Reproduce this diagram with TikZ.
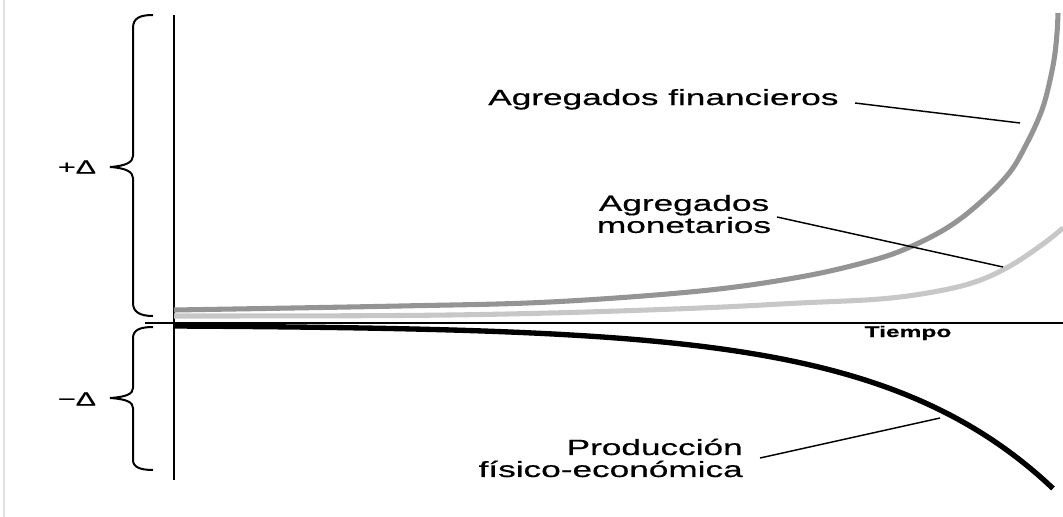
\documentclass[tikz,border=0pt]{standalone}
\usepackage{fontspec}
\setmainfont{Liberation Sans}
\newfontfamily\widefont[FakeStretch=1.6,FakeBold=0.6]{Liberation Sans}
\begin{document}
\begin{tikzpicture}[x=0.75pt,y=-0.75pt,
  lbl/.style={font=\widefont\fontsize{16.5}{16.5}\selectfont, inner sep=0pt},
  dlbl/.style={font=\widefont\fontsize{14.25}{14.25}\selectfont, inner sep=0pt},
  tlbl/.style={font=\widefont\bfseries\fontsize{11.5}{11.5}\selectfont, inner sep=0pt},
  bracestyle/.style={line width=1.5pt, line join=miter},
  axis/.style={black},
  curve/.style={line width=3.8pt},
  leader/.style={line width=1.1pt}]
\useasboundingbox (0,0) rectangle (1063,517);
% faint left border
\draw[line width=1.5pt, color=black!12] (4,0) -- (4,517);
% axes
\draw[axis, line width=1.9pt] (174,15) -- (174,480);
\draw[axis, line width=1.1pt] (145,323) -- (1063,323);
% braces
\draw[bracestyle] (153,15) .. controls (140,15) and (133,18) .. (133,28) -- (133,156)
  .. controls (133,162) and (126,166) .. (110,167)
  .. controls (126,168) and (133,172) .. (133,178) -- (133,303)
  .. controls (133,312) and (140,316) .. (153,316);
\draw[bracestyle] (153,327) .. controls (140,327) and (133,330) .. (133,338) -- (133,388)
  .. controls (133,394) and (126,397) .. (110,398)
  .. controls (126,399) and (133,402) .. (133,408) -- (133,460)
  .. controls (133,467) and (140,470) .. (153,470);
% curves
\draw[curve, color=black!22] plot[smooth, tension=0.6] coordinates
  {(174,316) (400,315.5) (550,313) (700,308) (800,303) (880,299) (933,292) (975,282) (1010,266) (1043,244) (1063,228)};
\draw[curve, color=black!42] plot[smooth, tension=0.6] coordinates
  {(174,310) (400,306) (550,302) (700,291) (800,277) (870,261) (910,247) (950,226) (983,200) (1010,172) (1027,143) (1040,115) (1047,93) (1054,60) (1057,33) (1058,13)};
\draw[curve, color=black, line width=4pt] plot[domain=174:1053, samples=120, smooth]
  (\x, {325 + exp(0.0058*(\x-174))});
% labels
\node[lbl, anchor=base west] (fin) at (488,105) {Agregados financieros};
\node[lbl, align=center, anchor=center] (mon) at (684,214) {Agregados\\monetarios};
\node[lbl, align=right, anchor=east] (prod) at (743,458) {Producción\\físico-económica};
\node[tlbl, anchor=base] (tiempo) at (908,337) {Tiempo};
\node[dlbl, anchor=center] (plus) at (77,167) {+Δ};
\node[dlbl, anchor=center] (minus) at (77,399) {−Δ};
% leaders
\coordinate (finA) at (855,103);
\coordinate (finB) at (1020,123);
\coordinate (monA) at (777,217);
\coordinate (monB) at (1003,267);
\coordinate (prodA) at (760,458);
\coordinate (prodB) at (940,418);
\draw[leader] (finA) -- (finB);
\draw[leader] (monA) -- (monB);
\draw[leader] (prodA) -- (prodB);
\end{tikzpicture}
\end{document}
